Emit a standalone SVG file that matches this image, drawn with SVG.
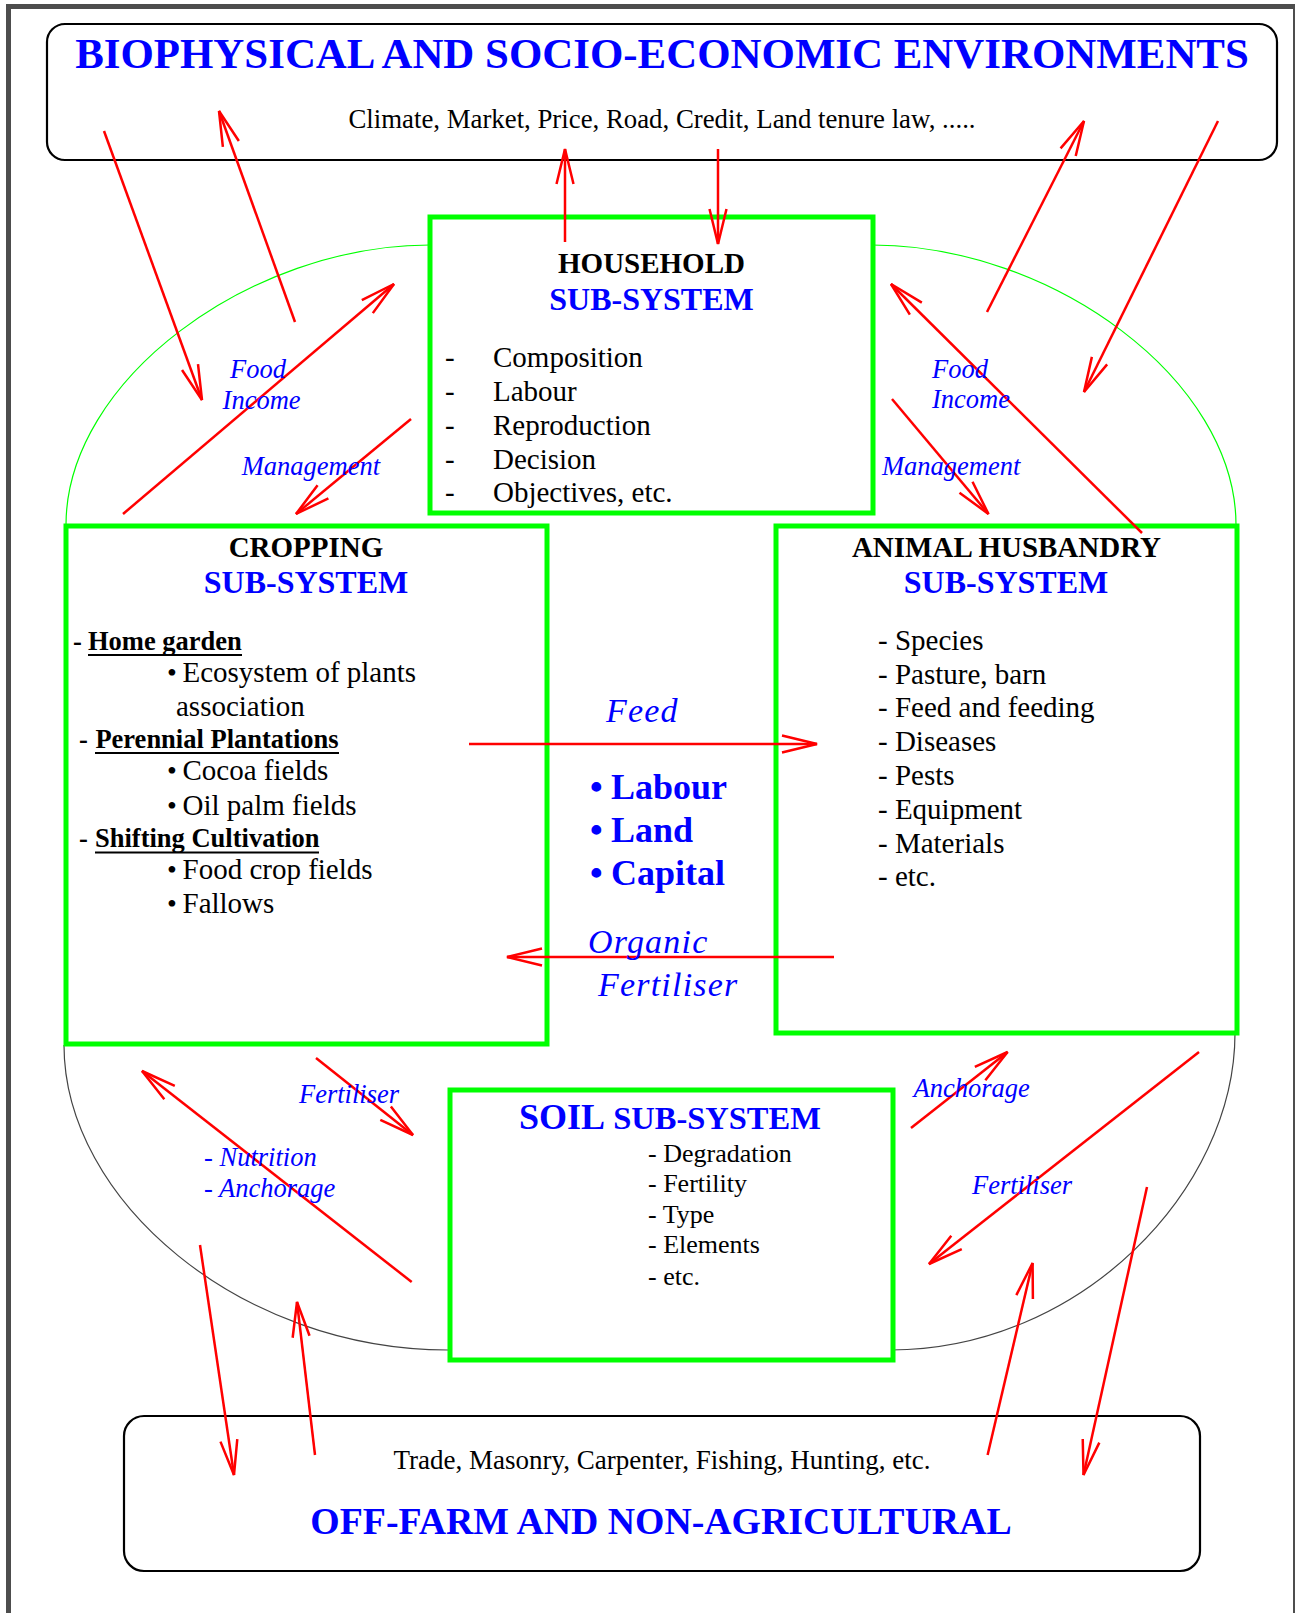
<svg xmlns="http://www.w3.org/2000/svg" width="1295" height="1613" viewBox="0 0 1295 1613">
  <defs>
    <style>
      text { font-family: "Liberation Serif", "Times New Roman", serif; }
      .title { font-weight: bold; fill: #0000ff; font-size: 42.9px; text-anchor: middle; }
      .sub { font-size: 26.8px; fill: #000; text-anchor: middle; }
      .hdr { font-weight: bold; fill: #000; font-size: 29px; text-anchor: middle; }
      .hdrb { font-weight: bold; fill: #0000ff; font-size: 32px; text-anchor: middle; }
      .item { font-size: 29px; fill: #000; }
      .dot { font-size: 28px; fill: #000; }
      .sitem { font-size: 26px; fill: #000; }
      .head { font-size: 26.5px; font-weight: bold; fill: #000; }
      .lab { font-size: 26.5px; font-style: italic; fill: #0000ff; }
      .big { font-size: 34px; font-style: italic; fill: #0000ff; letter-spacing: 1.2px; }
      .res { font-size: 36px; font-weight: bold; fill: #0000ff; }
      .env { fill: #fff; stroke: #000; stroke-width: 2.2; }
      .sys { fill: #fff; stroke: #00ff00; stroke-width: 5; }
      .flow { stroke: #ff0000; stroke-width: 2.5; fill: none; marker-end: url(#ah); }
      .ul { stroke: #000; stroke-width: 2.2; }
    </style>
    <marker id="ah" markerUnits="userSpaceOnUse" markerWidth="44" markerHeight="24" viewBox="0 0 44 24" refX="38" refY="12" orient="auto" overflow="visible">
      <path d="M3,3.5 L38,12 L3,20.5" fill="none" stroke="#ff0000" stroke-width="2.5"/>
    </marker>
  </defs>

  <rect width="1295" height="1613" fill="#fff"/>

  <!-- page frame -->
  <g id="frame" fill="#4d4d4d">
    <rect x="6" y="4" width="1289" height="5"/>
    <rect x="6" y="4" width="5" height="1609"/>
    <rect x="1293" y="4" width="2" height="1609"/>
  </g>

  <!-- outer boundary of the farm system -->
  <g id="farm-boundary" fill="none" stroke-width="1.2">
    <path d="M430,245 C250,245 66,380 66,525" stroke="#00ff00"/>
    <path d="M872,245 C1052,245 1236,380 1236,525" stroke="#00ff00"/>
    <path d="M64,1045 C64,1200 240,1350 448,1350" stroke="#444"/>
    <path d="M1235,1033 C1235,1190 1080,1350 891,1350" stroke="#444"/>
  </g>

  <g id="environment">
    <rect class="env" x="47" y="24" width="1230" height="136" rx="18" ry="18"/>
    <text class="title" x="662" y="68">BIOPHYSICAL AND SOCIO-ECONOMIC ENVIRONMENTS</text>
    <text class="sub" x="662" y="128">Climate, Market, Price, Road, Credit, Land tenure law, .....</text>
  </g>

  <g id="off-farm">
    <rect class="env" x="124" y="1416" width="1076" height="155" rx="20" ry="20"/>
    <text class="sub" x="662" y="1469" style="font-size:27px">Trade, Masonry, Carpenter, Fishing, Hunting, etc.</text>
    <text class="title" x="661" y="1534" style="font-size:37.8px">OFF-FARM AND NON-AGRICULTURAL</text>
  </g>

  <g id="household">
    <rect class="sys" x="430" y="217" width="443" height="296"/>
    <text class="hdr" x="651.5" y="273">HOUSEHOLD</text>
    <text class="hdrb" x="651.5" y="310">SUB-SYSTEM</text>
    <g class="item">
      <text x="445" y="367">-</text><text x="493" y="367">Composition</text>
      <text x="445" y="401">-</text><text x="493" y="401">Labour</text>
      <text x="445" y="435">-</text><text x="493" y="435">Reproduction</text>
      <text x="445" y="469">-</text><text x="493" y="469">Decision</text>
      <text x="445" y="502">-</text><text x="493" y="502">Objectives, etc.</text>
    </g>
  </g>

  <g id="cropping">
    <rect class="sys" x="66" y="526" width="481" height="518"/>
    <text class="hdr" x="306" y="556.5">CROPPING</text>
    <text class="hdrb" x="306" y="593">SUB-SYSTEM</text>
    <text class="head" x="73" y="649.5">-</text>
    <text class="head" x="88" y="649.5">Home garden</text>
    <line class="ul" x1="88" y1="655" x2="242" y2="655"/>
    <text class="dot" x="167" y="682">•</text>
    <text class="item" x="182.5" y="682">Ecosystem of plants</text>
    <text class="item" x="176" y="715.5">association</text>
    <text class="head" x="79" y="747.6">-</text>
    <text class="head" x="95.4" y="747.6">Perennial Plantations</text>
    <line class="ul" x1="95" y1="753" x2="339" y2="753"/>
    <text class="dot" x="167" y="780">•</text>
    <text class="item" x="182.5" y="780">Cocoa fields</text>
    <text class="dot" x="167" y="814.7">•</text>
    <text class="item" x="182.5" y="814.7">Oil palm fields</text>
    <text class="head" x="79" y="847">-</text>
    <text class="head" x="95" y="847">Shifting Cultivation</text>
    <line class="ul" x1="95" y1="852.5" x2="319" y2="852.5"/>
    <text class="dot" x="167" y="878.5">•</text>
    <text class="item" x="182.5" y="878.5">Food crop fields</text>
    <text class="dot" x="167" y="913">•</text>
    <text class="item" x="182.5" y="913">Fallows</text>
  </g>

  <g id="animal-husbandry">
    <rect class="sys" x="776" y="526" width="461" height="507"/>
    <text class="hdr" x="1006.5" y="556.5">ANIMAL HUSBANDRY</text>
    <text class="hdrb" x="1006" y="593">SUB-SYSTEM</text>
    <g class="item">
      <text x="878" y="650">- Species</text>
      <text x="878" y="683.5">- Pasture, barn</text>
      <text x="878" y="717">- Feed and feeding</text>
      <text x="878" y="751">- Diseases</text>
      <text x="878" y="785">- Pests</text>
      <text x="878" y="818.5">- Equipment</text>
      <text x="878" y="852.5">- Materials</text>
      <text x="878" y="886">- etc.</text>
    </g>
  </g>

  <g id="soil">
    <rect class="sys" x="450" y="1090" width="443" height="270"/>
    <text x="519" y="1129" font-weight="bold" fill="#0000ff"><tspan font-size="36">SOIL</tspan><tspan font-size="32.5"> SUB-SYSTEM</tspan></text>
    <g class="sitem">
      <text x="648" y="1162">- Degradation</text>
      <text x="648" y="1192">- Fertility</text>
      <text x="648" y="1222.5">- Type</text>
      <text x="648" y="1253">- Elements</text>
      <text x="648" y="1285">- etc.</text>
    </g>
  </g>

  <!-- shared resources between cropping and livestock -->
  <g id="resources">
    <text class="res" x="590" y="799">•</text><text class="res" x="611" y="799">Labour</text>
    <text class="res" x="590" y="842">•</text><text class="res" x="611" y="842">Land</text>
    <text class="res" x="590" y="885">•</text><text class="res" x="611" y="885">Capital</text>
  </g>

  <g id="connectors">
    <line class="flow" x1="104" y1="131" x2="202" y2="400"/>
    <line class="flow" x1="295" y1="322" x2="219" y2="111"/>
    <line class="flow" x1="123" y1="514" x2="394" y2="284"/>
    <line class="flow" x1="411" y1="419" x2="296" y2="514"/>
    <line class="flow" x1="565" y1="242" x2="565" y2="149"/>
    <line class="flow" x1="718" y1="149" x2="718" y2="244"/>
    <line class="flow" x1="987" y1="312" x2="1084" y2="121"/>
    <line class="flow" x1="1218" y1="121" x2="1084" y2="392"/>
    <line class="flow" x1="1142" y1="533" x2="891" y2="284"/>
    <line class="flow" x1="892" y1="399" x2="988.5" y2="514"/>
    <line class="flow" x1="469" y1="744" x2="817" y2="744"/>
    <line class="flow" x1="834" y1="957" x2="507" y2="957"/>
    <line class="flow" x1="316" y1="1058" x2="413" y2="1135"/>
    <line class="flow" x1="411.7" y1="1282" x2="142" y2="1071"/>
    <line class="flow" x1="200" y1="1245" x2="234" y2="1475"/>
    <line class="flow" x1="315" y1="1455" x2="297" y2="1302"/>
    <line class="flow" x1="911" y1="1128" x2="1007.6" y2="1052"/>
    <line class="flow" x1="1199" y1="1052" x2="929" y2="1264"/>
    <line class="flow" x1="987.6" y1="1455" x2="1032.6" y2="1263"/>
    <line class="flow" x1="1147" y1="1187" x2="1083.5" y2="1475"/>
  </g>

  <g id="flow-labels">
    <text class="lab" x="230" y="378">Food</text>
    <text class="lab" x="222.6" y="409">Income</text>
    <text class="lab" x="241.7" y="475">Management</text>
    <text class="lab" x="932" y="378">Food</text>
    <text class="lab" x="932" y="408">Income</text>
    <text class="lab" x="882" y="475">Management</text>
    <text class="big" x="606" y="722">Feed</text>
    <text class="big" x="588" y="952.5">Organic</text>
    <text class="big" x="598" y="995.5">Fertiliser</text>
    <text class="lab" x="299" y="1103">Fertiliser</text>
    <text class="lab" x="204" y="1166">- Nutrition</text>
    <text class="lab" x="204" y="1197">- Anchorage</text>
    <text class="lab" x="913.6" y="1097">Anchorage</text>
    <text class="lab" x="972" y="1194">Fertiliser</text>
  </g>
</svg>
